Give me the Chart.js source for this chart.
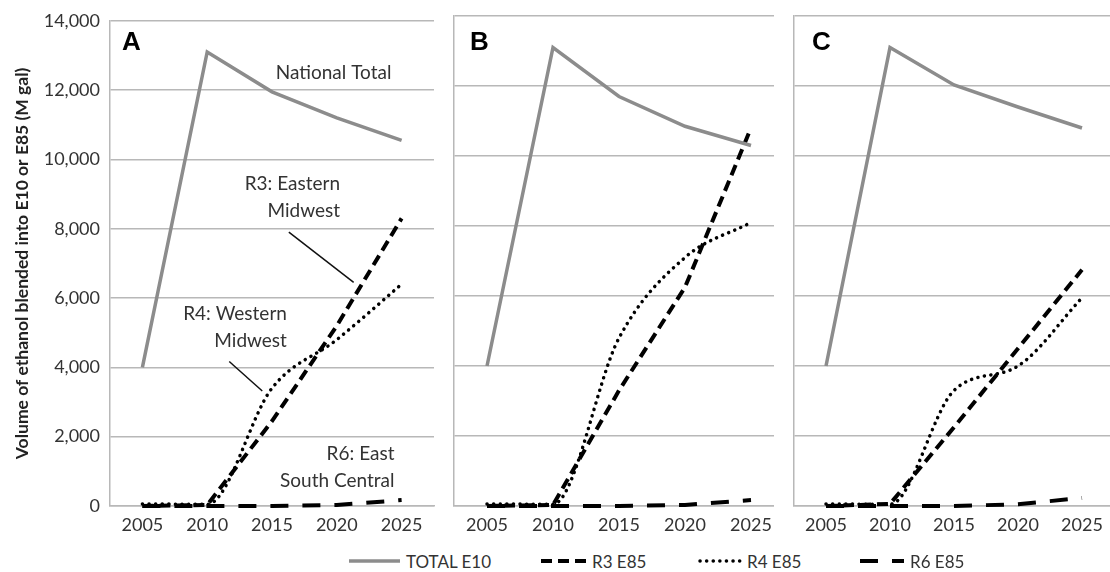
<!DOCTYPE html>
<html>
<head>
<meta charset="utf-8">
<title>Ethanol blended into E10 or E85</title>
<script src="https://cdn.jsdelivr.net/npm/chart.js@4.4.1/dist/chart.umd.min.js"></script>
<style>
  body { margin: 0; background: #fff; }
  #wrap { position: relative; width: 1110px; height: 572px; overflow: hidden; font-family: Lato, "Open Sans", sans-serif; }
  #wrap canvas { position: absolute; top: 0; background: #fff; }
  #legend { position: absolute; left: 0; top: 550px; width: 1110px; height: 22px; }
  .item { position: absolute; top: 0; height: 22px; display: flex; align-items: center; font-size: 17px; color: #333; white-space: nowrap; }
  .item svg { margin-right: 4px; }
</style>
</head>
<body>
<div id="wrap">
  <canvas id="chartA" width="440" height="536" style="left:0px"></canvas>
  <canvas id="chartB" width="344" height="536" style="left:440px"></canvas>
  <canvas id="chartC" width="340" height="536" style="left:774px"></canvas>
  <div id="legend"></div>
</div>
<script>
// data (M gal)
const years = ['2005', '2010', '2015', '2020', '2025'];
const yMax = 14000;
const yStep = 2000;
const yTitle = 'Volume of ethanol blended into E10 or E85 (M gal)';

const totalA = [4000, 13100, 11950, 11200, 10550];
const r3A = [0, 30, 2450, 5200, 8300];
const r4A = [60, 50, 3400, 4800, 6400];
const r6A = [0, 0, 0, 30, 170];

const totalB = [4000, 13100, 11700, 10850, 10300];
const r3B = [0, 30, 3300, 6250, 10800];
const r4B = [60, 50, 4800, 7100, 8100];
const r6B = [0, 0, 0, 30, 170];

const totalC = [4000, 13100, 12030, 11400, 10800];
const r3C = [0, 60, 2250, 4500, 6750];
const r4C = [60, 50, 3300, 4000, 5950];
const r6C = [0, 0, 0, 50, 230];

const gridColor = '#b8b8b8';
const styles = {
  total: { label: 'TOTAL E10', borderColor: '#8c8c8c', borderWidth: 3.5, borderDash: [], borderCapStyle: 'butt' },
  r3: { label: 'R3 E85', borderColor: '#000', borderWidth: 4, borderDash: [11, 6], borderCapStyle: 'butt' },
  r4: { label: 'R4 E85', borderColor: '#000', borderWidth: 3.5, borderDash: [0.1, 6.5], borderCapStyle: 'round', cubicInterpolationMode: 'monotone' },
  r6: { label: 'R6 E85', borderColor: '#000', borderWidth: 4, borderDash: [18, 14], borderCapStyle: 'butt' }
};

// text labels in panel A, placed in data units (x = category index, y = value)
const notesA = [
  { lines: ['National Total'], x: 2.95, y: 12500, align: 'center' },
  { lines: ['R3: Eastern', 'Midwest'], x: 3.05, y: 9300, align: 'right' },
  { lines: ['R4: Western', 'Midwest'], x: 2.23, y: 5550, align: 'right' },
  { lines: ['R6: East', 'South Central'], x: 3.89, y: 1490, align: 'right' }
];
const leadersA = [
  [[2.26, 7900], [3.26, 6450]],
  [[1.34, 4170], [1.85, 3320]]
];

const notesPlugin = {
  id: 'panelNotes',
  afterDatasetsDraw(chart, args, opts) {
    const { ctx, chartArea, scales } = chart;
    const x = scales.x, y = scales.y;
    ctx.save();
    ctx.fillStyle = '#000';
    ctx.font = 'bold 26px "Liberation Sans", Arial, sans-serif';
    ctx.textAlign = 'left';
    ctx.textBaseline = 'alphabetic';
    ctx.fillText(opts.letter, chartArea.left + opts.letterDx, 50);

    ctx.font = '19px Lato, "Open Sans", sans-serif';
    ctx.fillStyle = '#333';
    ctx.textBaseline = 'middle';
    (opts.notes || []).forEach(n => {
      ctx.textAlign = n.align;
      const px = x.getPixelForValue(n.x);
      const py = y.getPixelForValue(n.y);
      n.lines.forEach((t, i) => ctx.fillText(t, px, py + i * 27));
    });
    ctx.strokeStyle = '#111';
    ctx.lineWidth = 1.5;
    (opts.leaders || []).forEach(l => {
      ctx.beginPath();
      ctx.moveTo(x.getPixelForValue(l[0][0]), y.getPixelForValue(l[0][1]));
      ctx.lineTo(x.getPixelForValue(l[1][0]), y.getPixelForValue(l[1][1]));
      ctx.stroke();
    });
    ctx.restore();
  }
};

function makePanel(id, letter, letterDx, total, r3, r4, r6, first, yWidth, padRight, notes, leaders) {
  const ds = (s, data) => Object.assign({ data: data, pointRadius: 0, tension: 0, clip: 8, fill: false }, s);
  return new Chart(document.getElementById(id), {
    type: 'line',
    data: {
      labels: years,
      datasets: [ds(styles.total, total), ds(styles.r3, r3), ds(styles.r4, r4), ds(styles.r6, r6)]
    },
    options: {
      responsive: false,
      animation: false,
      events: [],
      layout: { padding: { top: 16, right: padRight, left: 0, bottom: 0 } },
      plugins: {
        legend: { display: false },
        tooltip: { enabled: false },
        panelNotes: { letter: letter, letterDx: letterDx, notes: notes, leaders: leaders }
      },
      scales: {
        x: {
          offset: true,
          grid: { display: false, drawTicks: false },
          border: { color: gridColor, width: 1.5 },
          ticks: { color: '#333', font: { family: 'Lato', size: 18 }, padding: 8, maxRotation: 0, autoSkip: false },
          afterFit: s => { s.height = 30; }
        },
        y: {
          min: 0,
          max: yMax,
          grid: { color: gridColor, lineWidth: 1.5, drawTicks: false },
          border: { color: gridColor, width: 1.5 },
          ticks: {
            display: first,
            stepSize: yStep,
            color: '#333',
            padding: 10,
            font: { family: 'Lato', size: 18 },
            callback: v => v.toLocaleString('en-US')
          },
          title: {
            display: first,
            text: yTitle,
            color: '#222',
            font: { family: 'Lato', size: 17.5, weight: 'bold' },
            padding: { top: 12, bottom: 0 }
          },
          afterFit: s => { s.width = yWidth; }
        }
      }
    },
    plugins: [notesPlugin]
  });
}

makePanel('chartA', 'A', 12, totalA, r3A, r4A, r6A, true, 110, 6, notesA, leadersA);
makePanel('chartB', 'B', 16, totalB, r3B, r4B, r6B, false, 14, 0, [], []);
makePanel('chartC', 'C', 18, totalC, r3C, r4C, r6C, false, 20, 0, [], []);

// legend under the three panels
const legendItems = [
  { s: styles.total, left: 347, w: 55 },
  { s: styles.r3, left: 539, w: 49 },
  { s: styles.r4, left: 698, w: 45 },
  { s: styles.r6, left: 858, w: 48 }
];
const legend = document.getElementById('legend');
legendItems.forEach(it => {
  const div = document.createElement('div');
  div.className = 'item';
  div.style.left = it.left + 'px';
  const dash = it.s.borderDash.length ? it.s.borderDash.join(' ') : 'none';
  div.innerHTML =
    '<svg width="' + it.w + '" height="10"><line x1="2" y1="5" x2="' + (it.w - 2) + '" y2="5" stroke="' + it.s.borderColor +
    '" stroke-width="' + it.s.borderWidth + '" stroke-dasharray="' + dash + '" stroke-linecap="' + it.s.borderCapStyle + '"/></svg>' +
    '<span>' + it.s.label + '</span>';
  legend.appendChild(div);
});
</script>
</body>
</html>
